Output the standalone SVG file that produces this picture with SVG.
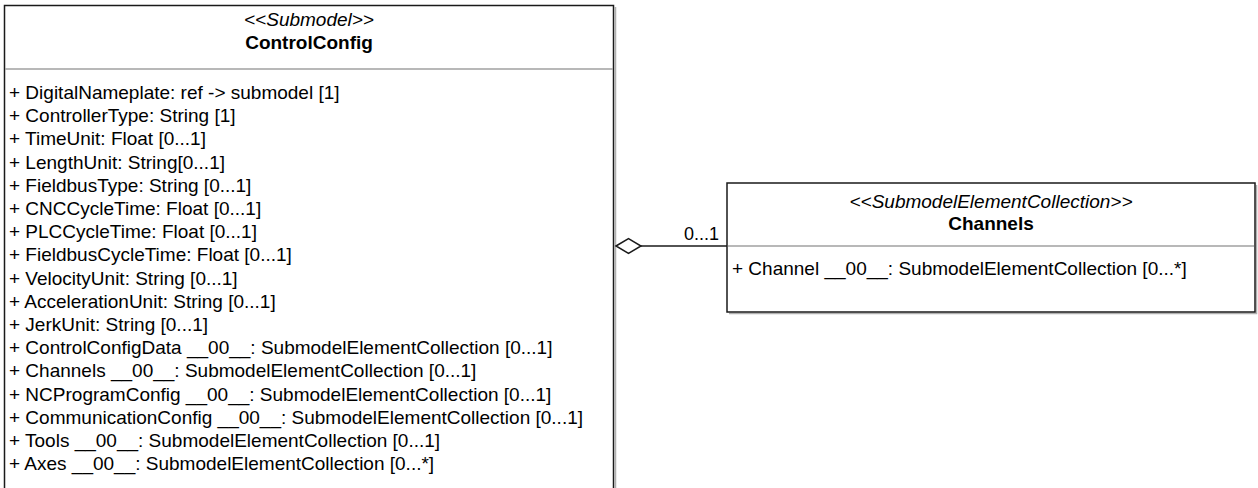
<svg xmlns="http://www.w3.org/2000/svg" width="1258" height="488" viewBox="0 0 1258 488">
  <defs>
    <style>
      .box { fill: #ffffff; stroke: #1a1a1a; stroke-width: 1.5; }
      .shadow { fill: none; stroke: #b0b0b0; stroke-width: 1.5; }
      .sep { stroke: #a0a0a0; stroke-width: 1.5; }
      .stereo { font-family: "Liberation Sans", Arial, sans-serif; font-size: 19px; font-style: italic; text-anchor: middle; fill: #000; }
      .title { font-family: "Liberation Sans", Arial, sans-serif; font-size: 19px; font-weight: bold; text-anchor: middle; fill: #000; }
      .attr { font-family: "Liberation Sans", Arial, sans-serif; font-size: 19px; fill: #000; }
      .mult { font-family: "Liberation Sans", Arial, sans-serif; font-size: 18px; text-anchor: end; fill: #000; }
      .edge { fill: none; stroke: #1a1a1a; stroke-width: 1.5; }
      .agg { fill: #ffffff; stroke: #1a1a1a; stroke-width: 1.5; }
    </style>
  </defs>
  <rect width="1258" height="488" fill="#ffffff"/>

  <!-- Submodel class -->
  <g id="controlconfig">
    <polyline class="shadow" points="615.5,7 615.5,500"/>
    <rect class="box" x="4.5" y="5.5" width="609" height="500"/>
    <line class="sep" x1="5" y1="69" x2="613" y2="69"/>
    <text class="stereo" x="309" y="26">&lt;&lt;Submodel&gt;&gt;</text>
    <text class="title" x="309" y="49">ControlConfig</text>
    <text class="attr" x="9" y="99">+ DigitalNameplate: ref -&gt; submodel [1]</text>
    <text class="attr" x="9" y="122">+ ControllerType: String [1]</text>
    <text class="attr" x="9" y="145">+ TimeUnit: Float [0...1]</text>
    <text class="attr" x="9" y="169">+ LengthUnit: String[0...1]</text>
    <text class="attr" x="9" y="192">+ FieldbusType: String [0...1]</text>
    <text class="attr" x="9" y="215">+ CNCCycleTime: Float [0...1]</text>
    <text class="attr" x="9" y="238">+ PLCCycleTime: Float [0...1]</text>
    <text class="attr" x="9" y="261">+ FieldbusCycleTime: Float [0...1]</text>
    <text class="attr" x="9" y="285">+ VelocityUnit: String [0...1]</text>
    <text class="attr" x="9" y="308">+ AccelerationUnit: String [0...1]</text>
    <text class="attr" x="9" y="331">+ JerkUnit: String [0...1]</text>
    <text class="attr" x="9" y="354">+ ControlConfigData __00__: SubmodelElementCollection [0...1]</text>
    <text class="attr" x="9" y="377">+ Channels __00__: SubmodelElementCollection [0...1]</text>
    <text class="attr" x="9" y="401">+ NCProgramConfig __00__: SubmodelElementCollection [0...1]</text>
    <text class="attr" x="9" y="424">+ CommunicationConfig __00__: SubmodelElementCollection [0...1]</text>
    <text class="attr" x="9" y="447">+ Tools __00__: SubmodelElementCollection [0...1]</text>
    <text class="attr" x="9" y="470">+ Axes __00__: SubmodelElementCollection [0...*]</text>
  </g>

  <!-- Collection class -->
  <g id="channels">
    <polyline class="shadow" points="1256.5,185 1256.5,313.5 729,313.5"/>
    <rect class="box" x="727" y="183" width="528" height="129"/>
    <line class="sep" x1="728" y1="246" x2="1254" y2="246"/>
    <text class="stereo" x="991" y="208">&lt;&lt;SubmodelElementCollection&gt;&gt;</text>
    <text class="title" x="991" y="230">Channels</text>
    <text class="attr" x="732" y="275">+ Channel __00__: SubmodelElementCollection [0...*]</text>
  </g>

  <!-- Aggregation -->
  <g id="connectors">
    <line class="edge" x1="641" y1="246" x2="727" y2="246"/>
    <polygon class="agg" points="616,246 628.5,238.5 641,246 628.5,253.5"/>
    <text class="mult" x="719" y="240">0...1</text>
  </g>
</svg>
